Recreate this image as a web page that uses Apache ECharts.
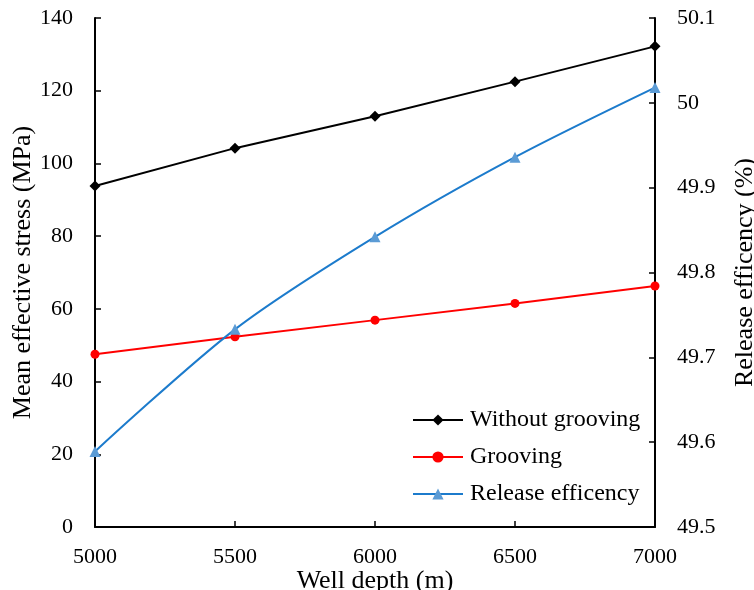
<!DOCTYPE html>
<html>
<head>
<meta charset="utf-8">
<script src="https://cdn.jsdelivr.net/npm/echarts@6/dist/echarts.min.js"></script>
<style>
html,body{margin:0;padding:0;background:#fff;}
#chart{width:754px;height:590px;}
</style>
</head>
<body>
<div id="chart"></div>
<script>
var depths = [5000, 5500, 6000, 6500, 7000];
var withoutGrooving = [93.8, 104.2, 113.0, 122.5, 132.2];
var grooving = [47.5, 52.3, 56.9, 61.5, 66.3];
var releaseEff = [49.589, 49.733, 49.842, 49.936, 50.018];

function pairs(xs, ys){
	var out = [];
	for (var i = 0; i < xs.length; i++) out.push([xs[i], ys[i]]);
	return out;
}

var font = 'Liberation Serif';
var axisLine = {show: true, lineStyle: {color: '#000', width: 2}};
var tick = {inside: true, length: 6, lineStyle: {color: '#000', width: 1.5}};

var option = {
	animation: false,
	backgroundColor: '#fff',
	textStyle: {fontFamily: font},
	grid: {left: 95, right: 99, top: 18, bottom: 63, containLabel: false, outerBoundsMode: 'none'},
	legend: {
		orient: 'vertical',
		left: 407, top: 403,
		itemWidth: 50, itemHeight: 14, itemGap: 13,
		textStyle: {fontFamily: font, fontSize: 24, color: '#000', padding: [0, 0, 0, 2]},
		data: ['Without grooving', 'Grooving', 'Release efficency']
	},
	xAxis: {
		type: 'value', min: 5000, max: 7000, interval: 500,
		name: 'Well depth (m)', nameLocation: 'middle', nameGap: 41, nameMoveOverlap: false,
		nameTextStyle: {fontFamily: font, fontSize: 26, color: '#000'},
		axisLine: axisLine,
		axisTick: tick,
		axisLabel: {fontFamily: font, fontSize: 22, color: '#000', margin: 19,
			formatter: function(v){ return String(v); }},
		splitLine: {show: false}
	},
	yAxis: [{
		type: 'value', min: 0, max: 140, interval: 20,
		name: 'Mean effective stress (MPa)', nameLocation: 'middle', nameGap: 59, nameMoveOverlap: false,
		nameTextStyle: {fontFamily: font, fontSize: 26, color: '#000'},
		axisLine: axisLine,
		axisTick: tick,
		axisLabel: {fontFamily: font, fontSize: 22, color: '#000', margin: 22},
		splitLine: {show: false}
	}, {
		type: 'value', min: 49.5, max: 50.1, interval: 0.1,
		name: 'Release efficency (%)', nameLocation: 'middle', nameGap: 77, nameRotate: 90, nameMoveOverlap: false,
		nameTextStyle: {fontFamily: font, fontSize: 26, color: '#000'},
		axisLine: axisLine,
		axisTick: tick,
		axisLabel: {fontFamily: font, fontSize: 22, color: '#000', margin: 22,
			formatter: function(v){ return String(Math.round(v * 10) / 10); }},
		splitLine: {show: false}
	}],
	series: [{
		name: 'Without grooving', type: 'line', yAxisIndex: 0,
		data: pairs(depths, withoutGrooving),
		symbol: 'diamond', symbolSize: 11,
		lineStyle: {color: '#000', width: 2},
		itemStyle: {color: '#000'}
	}, {
		name: 'Grooving', type: 'line', yAxisIndex: 0,
		data: pairs(depths, grooving),
		symbol: 'circle', symbolSize: 9,
		lineStyle: {color: '#FF0000', width: 2},
		itemStyle: {color: '#FF0000'}
	}, {
		name: 'Release efficency', type: 'line', yAxisIndex: 1,
		data: pairs(depths, releaseEff),
		smooth: 0.3,
		symbol: 'triangle', symbolSize: 11,
		lineStyle: {color: '#1C7BCC', width: 2},
		itemStyle: {color: '#5B9BD5'}
	}]
};

var chart = echarts.init(document.getElementById('chart'));
chart.setOption(option);
</script>
</body>
</html>
